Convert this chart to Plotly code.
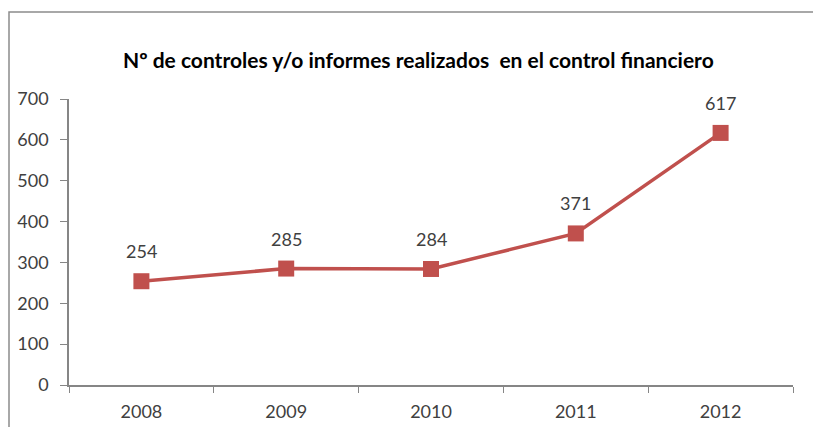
import plotly.graph_objects as go

years = ["2008", "2009", "2010", "2011", "2012"]
values = [254, 285, 284, 371, 617]
y_ticks = [0, 100, 200, 300, 400, 500, 600, 700]
title = "Nº de controles y/o informes realizados  en el control financiero"

W, H = 813, 427
L, R, T, B = 69, 20, 99, 42
pw, ph = W - L - R, H - T - B

red = "#C0504D"
txt = "#404040"
axis_col = "#868686"
font = "Lato, 'Open Sans', sans-serif"

fig = go.Figure()
fig.add_trace(go.Scatter(
    x=years, y=values, mode="lines+markers",
    line=dict(color=red, width=3.5),
    marker=dict(symbol="square", size=16, color=red),
    hoverinfo="skip", showlegend=False, cliponaxis=False,
))
for i, (xv, yv) in enumerate(zip(years, values)):
    fig.add_annotation(x=i, y=yv, text=str(yv), showarrow=False,
                       yshift=30, font=dict(family=font, size=18, color=txt))

fig.add_annotation(xref="paper", yref="paper", x=(418 - L) / pw, y=(H - B - 45) / ph,
                   text="<b>" + title + "</b>", showarrow=False,
                   font=dict(family=font, size=21, color="#000000"))

# chart border (partially outside the window, as in the reference)
fig.add_shape(type="rect", xref="paper", yref="paper",
              x0=(9 - L) / pw, x1=(W + 5 - L) / pw,
              y0=(H - B - (H + 5)) / ph, y1=(H - B - 12) / ph,
              line=dict(color="#8c8c8c", width=1.5), fillcolor="rgba(0,0,0,0)", layer="below")

fig.update_layout(
    width=W, height=H,
    margin=dict(l=L, r=R, t=T, b=B, autoexpand=False),
    paper_bgcolor="white", plot_bgcolor="white",
    font=dict(family=font, size=18, color=txt),
    xaxis=dict(type="category", showgrid=False, showline=True, linecolor=axis_col, linewidth=1.5,
               ticks="outside", tickson="boundaries", ticklen=6, tickcolor=axis_col,
               tickfont=dict(family=font, size=18, color=txt), ticklabelstandoff=10,
               range=[-0.5, 4.5], zeroline=False),
    yaxis=dict(range=[0, 700], tickvals=y_ticks, showgrid=False, showline=True,
               linecolor=axis_col, linewidth=1.5, ticks="outside", ticklen=7, tickcolor=axis_col,
               tickfont=dict(family=font, size=18, color=txt), ticklabelstandoff=8,
               zeroline=False),
)

fig.write_html("out.html", config={"displayModeBar": False},
               post_script="document.body.style.margin='0';document.body.style.overflow='hidden';")
